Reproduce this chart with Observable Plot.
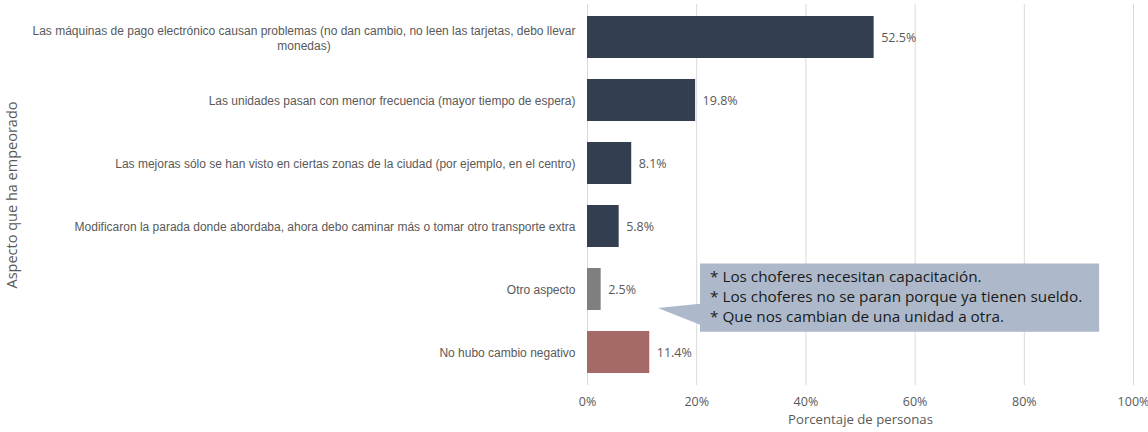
<!DOCTYPE html>
<html>
<head>
<meta charset="utf-8">
<script src="https://cdn.jsdelivr.net/npm/d3@7"></script>
<script src="https://cdn.jsdelivr.net/npm/@observablehq/plot@0.6"></script>
<style>
  html, body { margin: 0; padding: 0; background: #ffffff; }
  #chart { width: 1148px; height: 432px; }
  svg { font-family: "Open Sans", "Liberation Sans", Arial, sans-serif; }
</style>
</head>
<body>
<div id="chart"></div>
<script>
const categories = [
  "Las máquinas de pago electrónico causan problemas (no dan cambio, no leen las tarjetas, debo llevar\nmonedas)",
  "Las unidades pasan con menor frecuencia (mayor tiempo de espera)",
  "Las mejoras sólo se han visto en ciertas zonas de la ciudad (por ejemplo, en el centro)",
  "Modificaron la parada donde abordaba, ahora debo caminar más o tomar otro transporte extra",
  "Otro aspecto",
  "No hubo cambio negativo"
];
const values = [52.5, 19.8, 8.1, 5.8, 2.5, 11.4];
const barColors = ["#333F50", "#333F50", "#333F50", "#333F50", "#7F7F7F", "#A66A66"];
const xTicks = [0, 20, 40, 60, 80, 100];
const xTitle = "Porcentaje de personas";
const yTitle = "Aspecto que ha empeorado";
const calloutLines = [
  "* Los choferes necesitan capacitación.",
  "* Los choferes no se paran porque ya tienen sueldo.",
  "* Que nos cambian de una unidad a otra."
];
const calloutTarget = "Otro aspecto";
const calloutBoxX = [20.7, 93.8];
const calloutTipX = 13;

(function () {
const data = categories.map((c, i) => ({cat: c, value: values[i]}));
const textColor = "#595959";
const sans = '"Open Sans", "Liberation Sans", Arial, sans-serif';
const narrow = '"Liberation Sans", Arial, sans-serif';
const padIn = 0.34;

const plot = Plot.plot({
  width: 1148,
  height: 432,
  marginLeft: 587,
  marginRight: 15,
  marginTop: 4,
  marginBottom: 47,
  style: {fontSize: "12px", color: textColor, background: "#ffffff", fontFamily: sans},
  x: {domain: [0, 100], label: null},
  y: {domain: categories, paddingInner: padIn, paddingOuter: padIn / 2, label: null},
  color: {domain: categories, range: barColors},
  marks: [
    Plot.gridX(xTicks, {stroke: "#D9D9D9", strokeOpacity: 1, strokeWidth: 1}),
    Plot.barX(data, {x: "value", y: "cat", fill: "cat"}),
    Plot.text(data, {
      x: "value", y: "cat",
      text: d => d.value.toFixed(1) + "%",
      textAnchor: "start", dx: 7, fill: textColor, fontSize: 12.5
    }),
    Plot.axisY({
      tickSize: 0, tickPadding: 12, label: null, fill: textColor, fontSize: 12,
      lineHeight: 1.25, fontFamily: narrow
    }),
    Plot.axisX(xTicks, {
      tickSize: 0, tickPadding: 12, label: null, fill: textColor, fontSize: 12.5,
      tickFormat: d => d + "%"
    }),
    Plot.text([xTitle], {
      frameAnchor: "bottom", textAnchor: "middle", dy: 38, text: d => d, fill: textColor, fontSize: 13.2
    }),
    Plot.text([yTitle], {
      frameAnchor: "left", textAnchor: "middle", dx: -575, rotate: -90, text: d => d,
      fill: textColor, fontSize: 14.5
    })
  ]
});

document.getElementById("chart").appendChild(plot);

// Center the second line of the wrapped y tick label under the first
d3.select(plot).selectAll('g[aria-label="y-axis tick label"] text').each(function () {
  const tspans = this.querySelectorAll("tspan");
  if (tspans.length > 1) {
    const w = tspans[0].getComputedTextLength();
    this.setAttribute("text-anchor", "middle");
    tspans.forEach(t => t.setAttribute("x", -w / 2));
  }
});

// Callout annotation positioned with the chart's scales
const xs = plot.scale("x");
const ys = plot.scale("y");
const step = ys.bandwidth / (1 - padIn);
const bandStart = ys.apply(calloutTarget) - (step - ys.bandwidth) / 2;
const bx1 = xs.apply(calloutBoxX[0]);
const bx2 = xs.apply(calloutBoxX[1]);
const tipX = xs.apply(calloutTipX);
const boxTop = bandStart + 0.1 * step;
const boxBottom = bandStart + 1.17 * step;
const tipY = bandStart + 0.8 * step;
const baseY1 = bandStart + 0.73 * step;
const baseY2 = bandStart + 1.06 * step;

const svg = d3.select(plot);
const g = svg.append("g").attr("aria-label", "callout");
g.append("path")
  .attr("d", `M${bx1},${boxTop}H${bx2}V${boxBottom}H${bx1}V${baseY2}L${tipX},${tipY}L${bx1},${baseY1}Z`)
  .attr("fill", "#ADB9CA");
const t = g.append("text")
  .attr("fill", "#1A1A1A")
  .attr("text-anchor", "start")
  .attr("font-size", 15.3)
  .attr("font-family", sans);
calloutLines.forEach((line, i) => {
  t.append("tspan")
    .attr("x", bx1 + 10)
    .attr("y", boxTop + 14 + i * 20)
    .attr("dominant-baseline", "middle")
    .text(line);
});
})();
</script>
</body>
</html>
